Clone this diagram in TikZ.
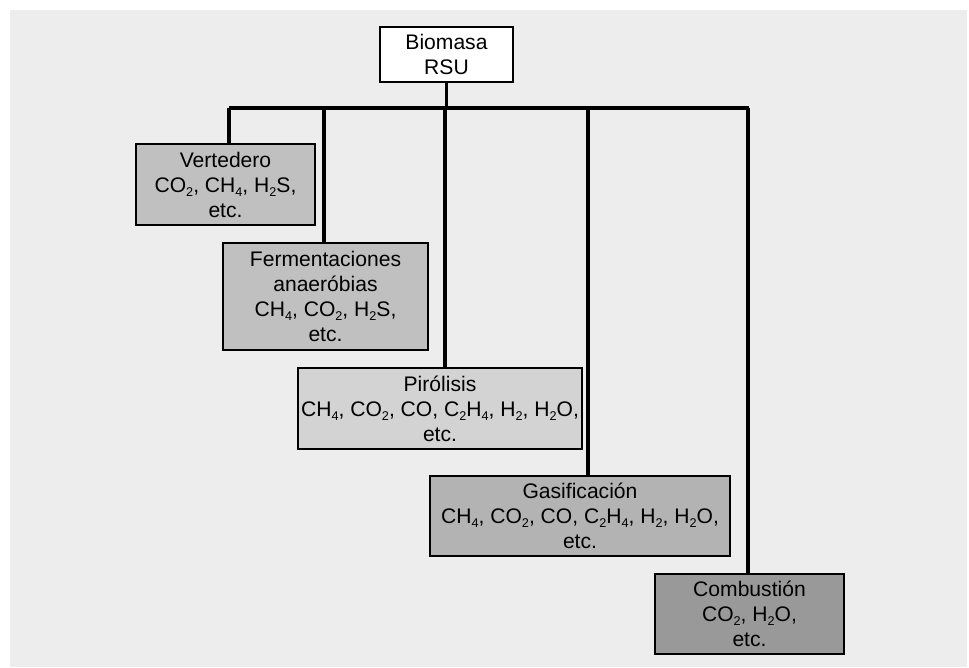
\documentclass[tikz,border=0pt]{standalone}
\usepackage{fontspec}
\setmainfont{Liberation Sans}

\tikzset{
    proc/.style={draw=black, line width=2pt, align=center, inner sep=0pt,
        font=\fontsize{15}{17.8}\selectfont},
    link/.style={draw=black, line width=2.4pt},
}
\definecolor{panel}{HTML}{EDEDED}
\definecolor{shadeA}{HTML}{C0C0C0}
\definecolor{shadeB}{HTML}{D3D3D3}
\definecolor{shadeC}{HTML}{B3B3B3}
\definecolor{shadeD}{HTML}{999999}

% small lowered digits for the formulas
\newcommand{\sub}[1]{\raisebox{-0.2em}{\fontsize{9}{9}\selectfont #1}}

\begin{document}
\begin{tikzpicture}[x=0.025cm, y=-0.025cm]
    \useasboundingbox (0,0) rectangle (969,667);
    \fill[panel] (10,10) rectangle (967,667);

    % source and the five routes
    \node[proc, fill=white, minimum width=33.25mm, minimum height=13.75mm]
        (biomasa) at (446.5,54.5) {Biomasa\\RSU};
    \node[proc, fill=shadeA, minimum width=44.75mm, minimum height=20.25mm]
        (vertedero) at (225.5,184.5) {Vertedero\\CO\sub{2}, CH\sub{4}, H\sub{2}S,\\etc.};
    \node[proc, fill=shadeA, minimum width=51.25mm, minimum height=26.75mm]
        (ferment) at (325.5,296.5) {Fermentaciones\\anaeróbias\\CH\sub{4}, CO\sub{2}, H\sub{2}S,\\etc.};
    \node[proc, fill=shadeB, minimum width=71mm, minimum height=20.25mm]
        (pirolisis) at (440,408.5) {Pirólisis\\CH\sub{4}, CO\sub{2}, CO, C\sub{2}H\sub{4}, H\sub{2}, H\sub{2}O,\\etc.};
    \node[proc, fill=shadeC, minimum width=75mm, minimum height=20mm]
        (gasif) at (580,516) {Gasificación\\CH\sub{4}, CO\sub{2}, CO, C\sub{2}H\sub{4}, H\sub{2}, H\sub{2}O,\\etc.};
    \node[proc, fill=shadeD, minimum width=47.25mm, minimum height=20mm]
        (combust) at (749.5,614) {Combustión\\CO\sub{2}, H\sub{2}O,\\etc.};

    \coordinate (bar) at (446.5,108);

    % tree lines
    \draw[link] (biomasa.south) -- (biomasa.south |- bar);
    \draw[link] ([xshift=3.5*0.25mm]vertedero.north |- bar) -- ([xshift=-0.5*0.25mm]combust.north |- bar);
    \draw[link] ([xshift=3.5*0.25mm]vertedero.north |- bar) -- ([xshift=3.5*0.25mm]vertedero.north);
    \draw[link] ([xshift=-1.5*0.25mm]ferment.north |- bar) -- ([xshift=-1.5*0.25mm]ferment.north);
    \draw[link] ([xshift=5*0.25mm]pirolisis.north |- bar) -- ([xshift=5*0.25mm]pirolisis.north);
    \draw[link] ([xshift=8*0.25mm]gasif.north |- bar) -- ([xshift=8*0.25mm]gasif.north);
    \draw[link] ([xshift=-1.5*0.25mm]combust.north |- bar) -- ([xshift=-1.5*0.25mm]combust.north);
\end{tikzpicture}
\end{document}
